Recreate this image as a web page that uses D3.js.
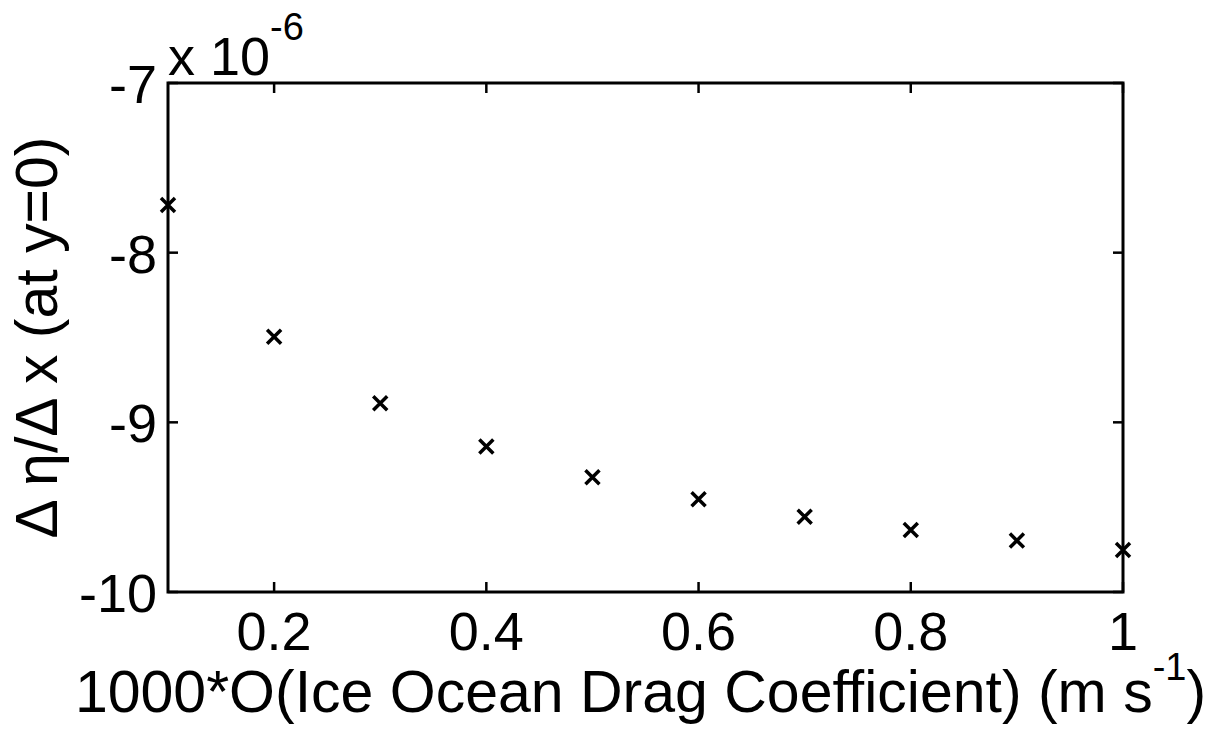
<!DOCTYPE html>
<html><head><meta charset="utf-8">
<script src="https://cdn.jsdelivr.net/npm/d3@7"></script>
<style>body{margin:0;background:#fff}svg{display:block}text{font-family:"Liberation Sans",Arial,sans-serif;fill:#000}</style>
</head><body><svg id="c" width="1230" height="743"></svg>
<script>
const xValues = [0.1,0.2,0.3,0.4,0.5,0.6,0.7,0.8,0.9,1.0];
const yValues = [-7.719,-8.495,-8.887,-9.143,-9.324,-9.453,-9.556,-9.634,-9.697,-9.752];
const xTicks = [0.2,0.4,0.6,0.8,1];
const yTicks = [-10,-9,-8,-7];
const xLabel = "1000*O(Ice Ocean Drag Coefficient) (m s";
const yLabel = "\u0394 \u03b7/\u0394 x (at y=0)";

const svg = d3.select("#c");
const L=168,R=1123,T=83,B=592;
const x = d3.scaleLinear().domain([0.1,1]).range([L,R]);
const y = d3.scaleLinear().domain([-10,-7]).range([B,T]);
const fs = 54, lfs = 59, tl = 10;

// ticks
const g = svg.append("g").attr("stroke","#000").attr("stroke-width",2.5);
xTicks.forEach(t=>{
  g.append("line").attr("x1",x(t)).attr("x2",x(t)).attr("y1",B).attr("y2",B-tl);
  g.append("line").attr("x1",x(t)).attr("x2",x(t)).attr("y1",T).attr("y2",T+tl);
});
yTicks.forEach(t=>{
  g.append("line").attr("x1",L).attr("x2",L+tl).attr("y1",y(t)).attr("y2",y(t));
  g.append("line").attr("x1",R).attr("x2",R-tl).attr("y1",y(t)).attr("y2",y(t));
});
svg.append("rect").attr("x",L).attr("y",T).attr("width",R-L).attr("height",B-T)
  .attr("fill","none").attr("stroke","#000").attr("stroke-width",3);

// tick labels
xTicks.forEach(t=>{
  svg.append("text").attr("x",x(t)).attr("y",B+58).attr("text-anchor","middle")
    .attr("font-size",fs+"px").text(d3.format("")(t));
});
yTicks.forEach(t=>{
  svg.append("text").attr("x",L-11).attr("y",y(t)+20).attr("text-anchor","end")
    .attr("font-size",fs+"px").text(String(t));
});
// exponent
const ex = svg.append("text").attr("x",L).attr("y",75).attr("font-size",fs+"px");
ex.append("tspan").text("x 10");
ex.append("tspan").attr("dy",-35).attr("font-size","38px").text("-6");

// markers
const s = 7;
const m = svg.append("g").attr("stroke","#000").attr("stroke-width",3.5);
xValues.forEach((v,i)=>{
  const cx=x(v), cy=y(yValues[i]);
  m.append("path").attr("d",`M${cx-s},${cy-s}L${cx+s},${cy+s}M${cx-s},${cy+s}L${cx+s},${cy-s}`);
});

// axis labels
const xl = svg.append("text").attr("x",(L+R)/2-5).attr("y",712).attr("text-anchor","middle").attr("font-size",lfs+"px");
xl.append("tspan").text(xLabel);
xl.append("tspan").attr("dy",-32).attr("font-size","38px").text("-1");
xl.append("tspan").attr("dy",32).text(")");
svg.append("text").attr("transform",`translate(57,${(T+B)/2}) rotate(-90)`).attr("text-anchor","middle")
  .attr("font-size",lfs+"px").text(yLabel);
</script></body></html>
